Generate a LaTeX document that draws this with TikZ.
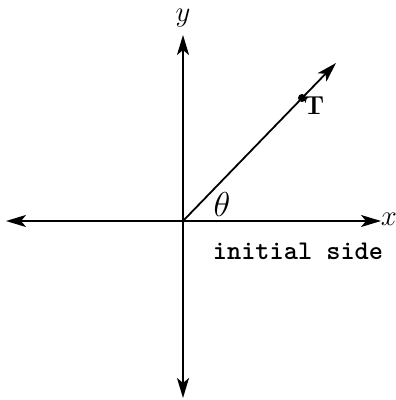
\documentclass[tikz,border=0pt]{standalone}
\usetikzlibrary{arrows.meta}
\begin{document}
\begin{tikzpicture}[x=0.5pt, y=-0.5pt,
  axis/.style={line width=0.9pt, -{Stealth[length=10pt,width=6pt,inset=2.5pt]}},
  lbl/.style={inner sep=0pt, font=\fontsize{14}{16}\selectfont},
  pt/.style={circle, fill=black, minimum size=4pt, inner sep=0pt}]
\useasboundingbox (0,0) rectangle (395,400);
% ---- axes through the origin ----
\coordinate (O)  at (183,221);
\coordinate (xr) at (381,221);
\coordinate (xl) at (6,221);
\coordinate (yt) at (183,35);
\coordinate (yb) at (183,398);
\draw[axis] (O) -- (xr);
\draw[axis] (O) -- (xl);
\draw[axis] (O) -- (yt);
\draw[axis] (O) -- (yb);
\node[lbl] (xlab) at (389,219) {$x$};
\node[lbl] (ylab) at (183,18) {$y$};
% ---- terminal ray with point T ----
\coordinate (tip) at (336,63);
\draw[axis] (O) -- (tip);
\node[pt] (T) at (302,98) {};
\node[lbl, font=\fontsize{13}{15}\selectfont\bfseries] (Tlab) at (314,106) {T};
\node[lbl, font=\fontsize{16}{18}\selectfont] (theta) at (222,205) {$\theta$};
\node[lbl, font=\fontsize{13.5}{15}\ttfamily\bfseries] (init) at (298,251) {initial side};
\end{tikzpicture}
\end{document}
